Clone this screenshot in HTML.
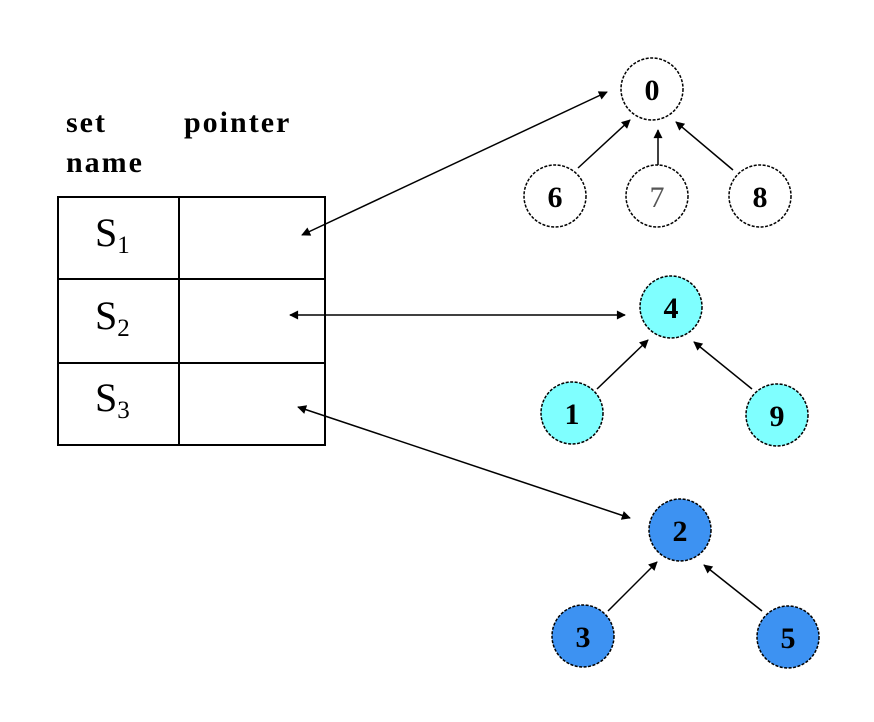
<!DOCTYPE html>
<html><head><style>
body{margin:0;background:#fff;}
svg{display:block;}
text{font-family:"Liberation Serif",serif;}
</style></head><body>
<svg width="874" height="722" viewBox="0 0 874 722" xmlns="http://www.w3.org/2000/svg">
<defs>
<marker id="a" viewBox="0 0 10 10" refX="9" refY="5" markerWidth="12" markerHeight="9" orient="auto-start-reverse" markerUnits="userSpaceOnUse">
<path d="M0,0 L10,5 L0,10 z" fill="#000"/></marker>
</defs>
<g font-weight="bold" font-size="30" fill="#000">
<text x="66" y="132" letter-spacing="2">set</text>
<text x="184" y="132" letter-spacing="2">pointer</text>
<text x="66" y="172" letter-spacing="2">name</text>
</g>
<g stroke="#000" stroke-width="2" fill="none">
<rect x="58" y="197" width="267" height="248"/>
<line x1="179" y1="197" x2="179" y2="445"/>
<line x1="58" y1="279" x2="325" y2="279"/>
<line x1="58" y1="363" x2="325" y2="363"/>
</g>
<g font-size="40" fill="#000">
<text x="95" y="246">S<tspan font-size="25" dy="7">1</tspan></text>
<text x="95" y="329">S<tspan font-size="25" dy="7">2</tspan></text>
<text x="95" y="411">S<tspan font-size="25" dy="7">3</tspan></text>
</g>
<g stroke="#000" stroke-width="1.5" marker-start="url(#a)" marker-end="url(#a)">
<line x1="302" y1="235" x2="607" y2="92"/>
<line x1="290" y1="315" x2="625" y2="315"/>
<line x1="298" y1="407" x2="630" y2="518"/>
</g>
<g stroke="#000" stroke-width="1.5" marker-end="url(#a)">
<line x1="578" y1="168" x2="630" y2="120"/>
<line x1="658" y1="165" x2="658" y2="130"/>
<line x1="733" y1="170" x2="676" y2="122"/>
<line x1="597" y1="389" x2="648" y2="340"/>
<line x1="752" y1="389" x2="694" y2="342"/>
<line x1="608" y1="611" x2="657" y2="562"/>
<line x1="762" y1="611" x2="704" y2="565"/>
</g>
<g stroke="#000" stroke-width="1.5" stroke-dasharray="3,1.5">
<circle cx="652" cy="89" r="31" fill="#fff"/>
<circle cx="555" cy="196" r="31" fill="#fff"/>
<circle cx="657" cy="196" r="31" fill="#fff"/>
<circle cx="760" cy="196" r="31" fill="#fff"/>
<circle cx="671" cy="307" r="31" fill="#7fffff"/>
<circle cx="572" cy="413" r="31" fill="#7fffff"/>
<circle cx="777" cy="415" r="31" fill="#7fffff"/>
<circle cx="680" cy="530" r="31" fill="#3d92f2"/>
<circle cx="583" cy="636" r="31" fill="#3d92f2"/>
<circle cx="788" cy="637" r="31" fill="#3d92f2"/>
</g>
<g font-size="30" font-weight="bold" text-anchor="middle" fill="#000">
<text x="652" y="100">0</text>
<text x="555" y="207">6</text>
<text x="657" y="207" font-weight="normal" fill="#555">7</text>
<text x="760" y="207">8</text>
<text x="671" y="318">4</text>
<text x="572" y="424">1</text>
<text x="777" y="426">9</text>
<text x="680" y="541">2</text>
<text x="583" y="647">3</text>
<text x="788" y="648">5</text>
</g>
</svg>
</body></html>
